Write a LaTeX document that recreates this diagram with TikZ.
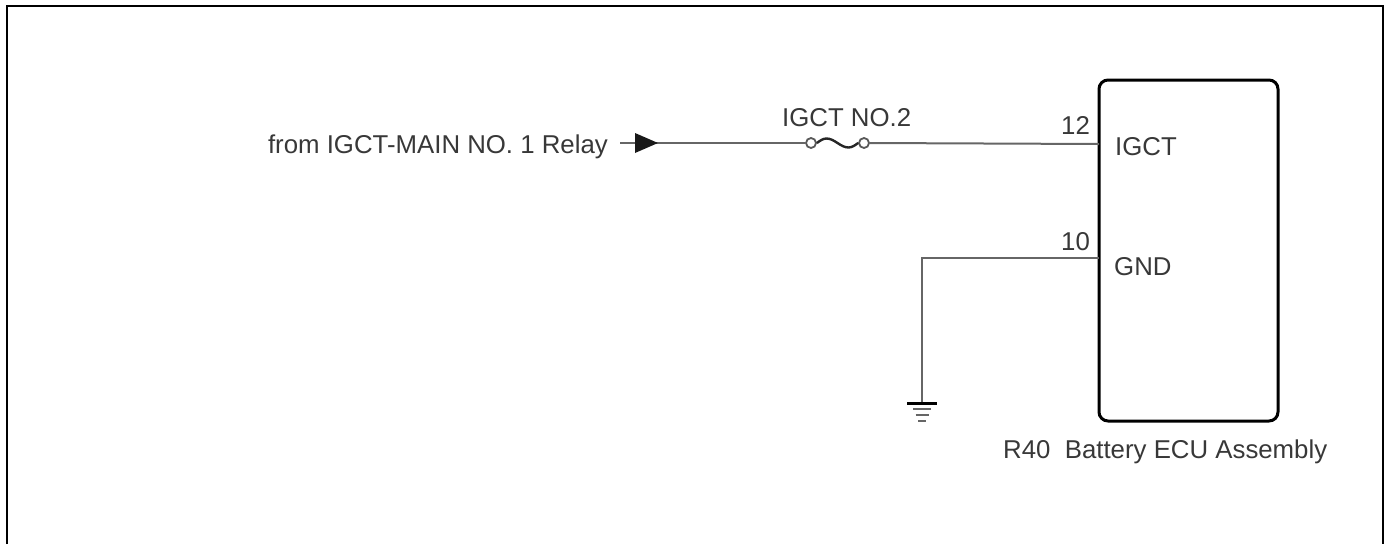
\documentclass[tikz,border=0pt]{standalone}
\usepackage{fontspec}
\setmainfont{Liberation Sans}
\begin{document}
\begin{tikzpicture}[x=1pt,y=-1pt,
  lbl/.style={inner sep=0pt,text=black!78,font=\fontsize{25.8}{31}\selectfont},
  wire/.style={draw=black!60,line width=2pt},
  ecubox/.style={draw=black,line width=3pt,rounded corners=9pt,minimum width=179pt,minimum height=341pt,inner sep=0pt},
  fusering/.style={circle,draw=black!65,line width=1.8pt,fill=white,minimum size=10pt,inner sep=0pt}]
\useasboundingbox (0,0) rectangle (1386,544);
% frame (open at the bottom)
\draw[line width=2.6pt] (7,544) -- (7,6) -- (1383,6) -- (1383,544);
% ECU box
\node[ecubox] (ecu) at (1188.5,250.5) {};
\coordinate (p12) at (1099,144);
\coordinate (p10) at (1099,258);
% labels
\node[lbl,anchor=base east] (src) at (608,153) {from IGCT-MAIN NO. 1 Relay};
\node[lbl,anchor=base west] (fuselbl) at (782,126) {IGCT NO.2};
\node[lbl,anchor=base west] (n12) at (1061,134) {12};
\node[lbl,anchor=base west] (igct) at (1115,155) {IGCT};
\node[lbl,anchor=base west] (n10) at (1061,250) {10};
\node[lbl,anchor=base west] (gndlbl) at (1114,275) {GND};
\node[lbl,anchor=base west] (ecuname) at (1003,458) {R40\ \ Battery ECU Assembly};
% fuse
\node[fusering] (f1) at (811,143) {};
\node[fusering] (f2) at (864,143) {};
% input wire with arrow
\coordinate (a0) at (620,143);
\draw[wire] (a0) -- (f1.west);
\fill[black!90] (635,133) -- (658,143) -- (635,153) -- cycle;
\draw[black!85,line width=2.4pt] (f1.east) sin (826.5,138.5) cos (837.5,143) sin (848.5,147.5) cos (f2.west);
\draw[wire] (f2.east) -- (p12);
% ground wire
\coordinate (gnd) at (922,403);
\draw[wire] (p10) -- (922,258) -- (gnd);
\draw[black,line width=3pt] (907,403) -- (937,403);
\draw[black!60,line width=2pt] (913,409) -- (931,409);
\draw[black!60,line width=2pt] (915.5,415) -- (928.5,415);
\draw[black!60,line width=2pt] (918,421) -- (926,421);
\end{tikzpicture}
\end{document}
